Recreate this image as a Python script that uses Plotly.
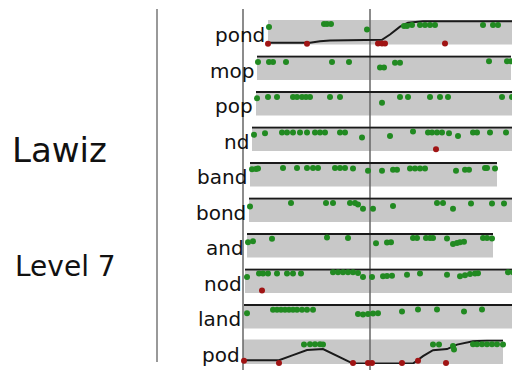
import plotly.graph_objects as go

# ---------------- data ----------------
words = ["pond", "mop", "pop", "nd", "band", "bond", "and", "nod", "land", "pod"]
band_start = [25, 14, 13, 9, 7, 6, 4, 2, 1, 0]
band_end = [290, 268, 272, 290, 254, 290, 250, 290, 290, 260]
marker_trial = 127

pond_hit_t = [26, 81, 84, 88, 124, 161, 164, 169, 177, 182, 187, 192, 240, 250, 255, 275]
pond_hit_y = [0.74, 0.87, 0.87, 0.87, 0.62, 0.78, 0.78, 0.82, 0.82, 0.82, 0.82, 0.82, 0.82, 0.82, 0.82, 0.82]
pond_miss_t = [25, 64, 135, 139, 142, 202]
pond_miss_y = [-0.02, -0.02, 0.0, 0.0, 0.0, 0.0]
pond_curve_t = [25, 67, 77, 87, 139, 147, 157, 165, 180, 290]
pond_curve_y = [0.03, 0.03, 0.1, 0.13, 0.16, 0.4, 0.75, 0.93, 0.99, 1.0]

mop_hit_t = [15, 26, 30, 43, 89, 106, 137, 141, 152, 157, 246, 264, 268]
mop_hit_y = [0.76, 0.76, 0.76, 0.76, 0.76, 0.76, 0.51, 0.51, 0.72, 0.72, 0.79, 0.79, 0.79]

pop_hit_t = [14, 25, 34, 50, 54, 59, 63, 67, 87, 97, 139, 157, 165, 187, 197, 205, 259, 269]
pop_hit_y = [0.72, 0.78, 0.78, 0.78, 0.78, 0.78, 0.78, 0.78, 0.78, 0.78, 0.52, 0.78, 0.78, 0.78, 0.78, 0.78, 0.78, 0.78]

nd_hit_t = [11, 22, 39, 44, 50, 57, 64, 72, 77, 82, 97, 102, 119, 147, 170, 185, 189, 194, 199, 206, 215, 230, 234, 247, 263, 275]
nd_hit_y = [0.68, 0.75, 0.78, 0.78, 0.78, 0.78, 0.78, 0.78, 0.78, 0.78, 0.78, 0.78, 0.56, 0.62, 0.82, 0.78, 0.78, 0.78, 0.78, 0.75, 0.62, 0.78, 0.78, 0.78, 0.78, 0.78]
nd_miss_t = [193]
nd_miss_y = [0.03]

band_hit_t = [9, 13, 15, 40, 54, 64, 70, 75, 92, 97, 102, 110, 125, 139, 150, 154, 167, 172, 177, 182, 213, 222, 226, 242, 244, 252]
band_hit_y = [0.72, 0.74, 0.76, 0.78, 0.78, 0.78, 0.78, 0.78, 0.78, 0.78, 0.78, 0.76, 0.66, 0.66, 0.7, 0.7, 0.76, 0.76, 0.76, 0.76, 0.66, 0.7, 0.7, 0.78, 0.78, 0.76]

bond_hit_t = [7, 48, 83, 90, 107, 112, 115, 120, 130, 150, 194, 200, 210, 228, 249, 261, 272]
bond_hit_y = [0.65, 0.8, 0.8, 0.8, 0.8, 0.8, 0.74, 0.55, 0.55, 0.67, 0.8, 0.8, 0.55, 0.78, 0.78, 0.78, 0.78]

and_hit_t = [5, 10, 29, 84, 105, 133, 144, 148, 170, 174, 183, 187, 190, 204, 210, 214, 217, 221, 240, 244, 249]
and_hit_y = [0.64, 0.68, 0.79, 0.85, 0.82, 0.59, 0.62, 0.64, 0.82, 0.82, 0.82, 0.82, 0.82, 0.8, 0.56, 0.6, 0.63, 0.66, 0.82, 0.82, 0.8]

nod_hit_t = [4, 16, 20, 25, 34, 44, 50, 58, 90, 95, 100, 105, 110, 115, 120, 129, 140, 144, 149, 164, 177, 204, 217, 222, 227, 232, 235, 265, 270, 275]
nod_hit_y = [0.67, 0.82, 0.82, 0.82, 0.82, 0.82, 0.82, 0.82, 0.88, 0.88, 0.88, 0.88, 0.88, 0.85, 0.67, 0.67, 0.7, 0.71, 0.72, 0.77, 0.82, 0.77, 0.7, 0.75, 0.8, 0.82, 0.84, 0.88, 0.88, 0.88]
nod_miss_t = [19]
nod_miss_y = [0.06]

land_hit_t = [4, 30, 34, 38, 42, 46, 50, 54, 59, 64, 70, 115, 120, 125, 130, 135, 159, 175, 194, 221, 239]
land_hit_y = [0.64, 0.79, 0.79, 0.79, 0.79, 0.79, 0.79, 0.79, 0.79, 0.79, 0.79, 0.6, 0.58, 0.6, 0.62, 0.64, 0.71, 0.8, 0.8, 0.71, 0.8]

pod_hit_t = [61, 67, 72, 77, 80, 190, 196, 210, 211, 230, 234, 239, 244, 249, 254, 260]
pod_hit_y = [0.82, 0.84, 0.84, 0.84, 0.82, 0.82, 0.82, 0.76, 0.6, 0.84, 0.84, 0.84, 0.84, 0.84, 0.84, 0.82]
pod_miss_t = [1, 36, 110, 125, 129, 159, 175, 203]
pod_miss_y = [0.1, 0.0, 0.0, 0.0, 0.0, 0.0, 0.1, -0.01]
pod_curve_t = [0, 36, 50, 64, 80, 95, 110, 170, 180, 190, 204, 214, 230, 244, 260]
pod_curve_y = [0.12, 0.12, 0.35, 0.58, 0.62, 0.3, -0.03, -0.03, 0.3, 0.57, 0.62, 0.82, 0.97, 1.0, 1.0]

title_word = "Lawiz"
level_label = "Level 7"

# ---------------- assemble rows ----------------
hits = [(pond_hit_t, pond_hit_y), (mop_hit_t, mop_hit_y), (pop_hit_t, pop_hit_y),
        (nd_hit_t, nd_hit_y), (band_hit_t, band_hit_y), (bond_hit_t, bond_hit_y),
        (and_hit_t, and_hit_y), (nod_hit_t, nod_hit_y), (land_hit_t, land_hit_y),
        (pod_hit_t, pod_hit_y)]
misses = {0: (pond_miss_t, pond_miss_y), 3: (nd_miss_t, nd_miss_y),
          7: (nod_miss_t, nod_miss_y), 9: (pod_miss_t, pod_miss_y)}
curves = {0: (pond_curve_t, pond_curve_y), 9: (pod_curve_t, pod_curve_y)}

# page body has an 8px margin: lay the figure out in window pixels minus that
OFF = 8
W, H = 520 - OFF, 370 - OFF
def px(xw):  # window x pixel -> paper
    return (xw - OFF) / W
def py(yw):  # window y pixel -> paper
    return 1 - (yw - OFF) / H

GREEN = "#218a21"
RED = "#a01414"
BAND = "#c8c8c8"

fig = go.Figure()
layout = dict(
    width=W, height=H, margin=dict(l=0, r=0, t=0, b=0),
    paper_bgcolor="white", plot_bgcolor="rgba(0,0,0,0)",
    showlegend=False,
    xaxis=dict(domain=[0, 1], range=[-(243 - OFF), 520 - 243], visible=False, fixedrange=True),
)
shapes = []
annotations = []

for i, w in enumerate(words):
    top_px = 20 + 35.5 * i
    bot_px = top_px + 24.5
    ax = "y" if i == 0 else f"y{i+1}"
    key = "yaxis" if i == 0 else f"yaxis{i+1}"
    layout[key] = dict(domain=[py(bot_px), py(top_px)], range=[-0.05, 1.05],
                       visible=False, anchor="x", fixedrange=True)
    shapes.append(dict(type="rect", xref="x", yref=f"{ax} domain",
                       x0=band_start[i], x1=band_end[i], y0=0, y1=1,
                       fillcolor=BAND, line=dict(width=0), layer="below"))
    if i in curves:
        ct, cy = curves[i]
    else:
        ct, cy = [band_start[i], band_end[i]], [1, 1]
    fig.add_trace(go.Scatter(x=ct, y=cy, mode="lines", xaxis="x", yaxis=ax,
                             line=dict(color="#1a1a1a", width=2), hoverinfo="skip"))
    ht, hy = hits[i]
    fig.add_trace(go.Scatter(x=ht, y=hy, mode="markers", xaxis="x", yaxis=ax,
                             marker=dict(color=GREEN, size=6), cliponaxis=False))
    if i in misses:
        mt, my = misses[i]
        fig.add_trace(go.Scatter(x=mt, y=my, mode="markers", xaxis="x", yaxis=ax,
                                 marker=dict(color=RED, size=6), cliponaxis=False))
    annotations.append(dict(text=w, xref="x", yref=ax, x=band_start[i], y=0.5,
                            xanchor="right", yanchor="middle", xshift=-1, yshift=-3,
                            showarrow=False,
                            font=dict(family="DejaVu Sans", size=20, color="#111")))

for xv in [0, marker_trial]:
    shapes.append(dict(type="line", xref="x", yref="paper", x0=xv, x1=xv,
                       y0=0, y1=py(9), line=dict(color="#666", width=1.5),
                       layer="below"))
shapes.append(dict(type="line", xref="paper", yref="paper", x0=px(157), x1=px(157),
                   y0=py(362), y1=py(9), line=dict(color="#777", width=1.5)))

annotations.append(dict(text=title_word, xref="paper", yref="paper", x=px(10), y=py(150),
                        xanchor="left", yanchor="middle", showarrow=False,
                        font=dict(family="DejaVu Sans", size=34, color="#111")))
annotations.append(dict(text=level_label, xref="paper", yref="paper", x=px(13), y=py(266),
                        xanchor="left", yanchor="middle", showarrow=False,
                        font=dict(family="DejaVu Sans", size=28, color="#111")))

layout["shapes"] = shapes
layout["annotations"] = annotations
fig.update_layout(**layout)
fig.write_html("out.html")
